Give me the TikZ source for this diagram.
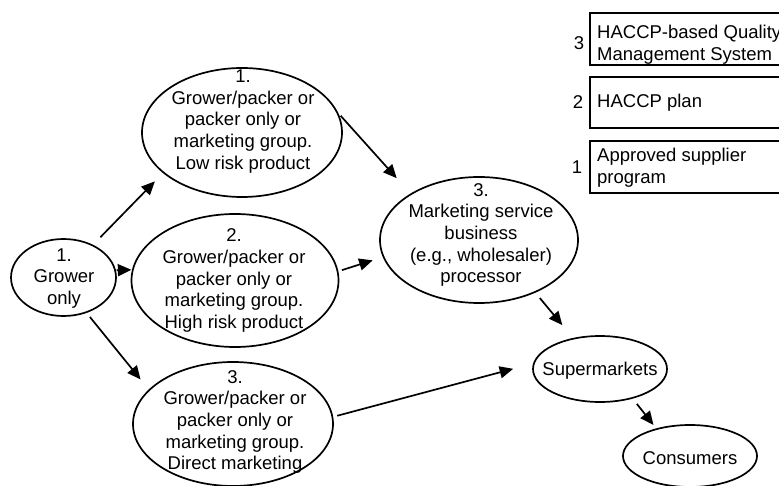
\documentclass[tikz,border=0pt]{standalone}
\usepackage{fontspec}
\setmainfont{Liberation Sans}
\usetikzlibrary{shapes.geometric,arrows.meta}
\begin{document}
\begin{tikzpicture}[x=1pt,y=-1pt,
  ell/.style={draw, ellipse, line width=1.7pt, inner sep=0pt, outer sep=0pt},
  txt/.style={align=center, inner sep=0pt, font=\fontsize{18.5}{21.7}\selectfont},
  ltxt/.style={align=left, inner sep=0pt, anchor=west, font=\fontsize{18.5}{21.7}\selectfont},
  arr/.style={line width=1.7pt, -{Triangle[length=13.5pt,width=12pt]}},
  legbox/.style={draw, line width=1.5pt, inner sep=0pt, outer sep=0pt, anchor=north west, minimum width=220pt}]
\useasboundingbox (0,0) rectangle (779,486);
\clip (0,0) rectangle (779,486);

% ellipses
\node[ell, minimum width=105pt, minimum height=77pt] (g) at (63.5,277.5) {};
\node[ell, minimum width=200pt, minimum height=129pt] (e1) at (242,132.5) {};
\node[ell, minimum width=207pt, minimum height=133pt] (e2) at (235,280.5) {};
\node[ell, minimum width=200pt, minimum height=124pt] (e3) at (233,424) {};
\node[ell, minimum width=198pt, minimum height=126pt] (m) at (479,240) {};
\node[ell, minimum width=134pt, minimum height=66pt] (s) at (600,369) {};
\node[ell, minimum width=134pt, minimum height=62pt] (c) at (690,456) {};

% texts
\node[txt] (gt) at (64,278.5) {1.\\Grower\\only};
\node[txt] (e1t) at (243,121.5) {1.\\Grower/packer or\\packer only or\\marketing group.\\Low risk product};
\node[txt] (e2t) at (234,280.5) {2.\\Grower/packer or\\packer only or\\marketing group.\\High risk product};
\node[txt] (e3t) at (235,422) {3.\\Grower/packer or\\packer only or\\marketing group.\\Direct marketing};
\node[txt] (mt) at (481,235) {3.\\Marketing service\\business\\(e.g., wholesaler)\\processor};
\node[txt] (st) at (600,370.5) {Supermarkets};
\node[txt] (ct) at (690,458.5) {Consumers};

% arrows
\draw[arr, shorten <=11.4pt, shorten >=12.4pt] (g.48.7) -- (e1.207.2);
\draw[arr, shorten <=1.5pt, shorten >=1.5pt] (g.8.3) -- (e2.174.1);
\draw[arr, shorten <=6.1pt, shorten >=13.7pt] (g.303.2) -- (e3.158.5);
\draw[arr, shorten <=6.7pt, shorten >=21.5pt] (e1.13) -- (m.146.1);
\draw[arr, shorten <=4.6pt, shorten >=11.5pt] (e2.5.1) -- (m.190.6);
\draw[arr, shorten <=7.8pt, shorten >=17.7pt] (m.317.2) -- (s.131.6);
\draw[arr, shorten <=5pt, shorten >=21.6pt] (e3.4.4) -- (s.175.3);
\draw[arr, shorten <=7.6pt, shorten >=5.3pt] (s.318.2) -- (c.141.6);

% legend
\node[legbox, minimum height=52pt] (b3) at (590,13) {};
\node[legbox, minimum height=51pt] (b2) at (590,77) {};
\node[legbox, minimum height=52pt] (b1) at (590,141) {};
\node[ltxt] (b3t) at (597,44.5) {HACCP-based Quality\\Management System};
\node[ltxt] (b2t) at (597,102.5) {HACCP plan};
\node[ltxt] (b1t) at (597,168) {Approved supplier\\program};
\node[txt] (n3) at (579,43.5) {3};
\node[txt] (n2) at (578,102.5) {2};
\node[txt] (n1) at (577,167.5) {1};
\end{tikzpicture}
\end{document}
